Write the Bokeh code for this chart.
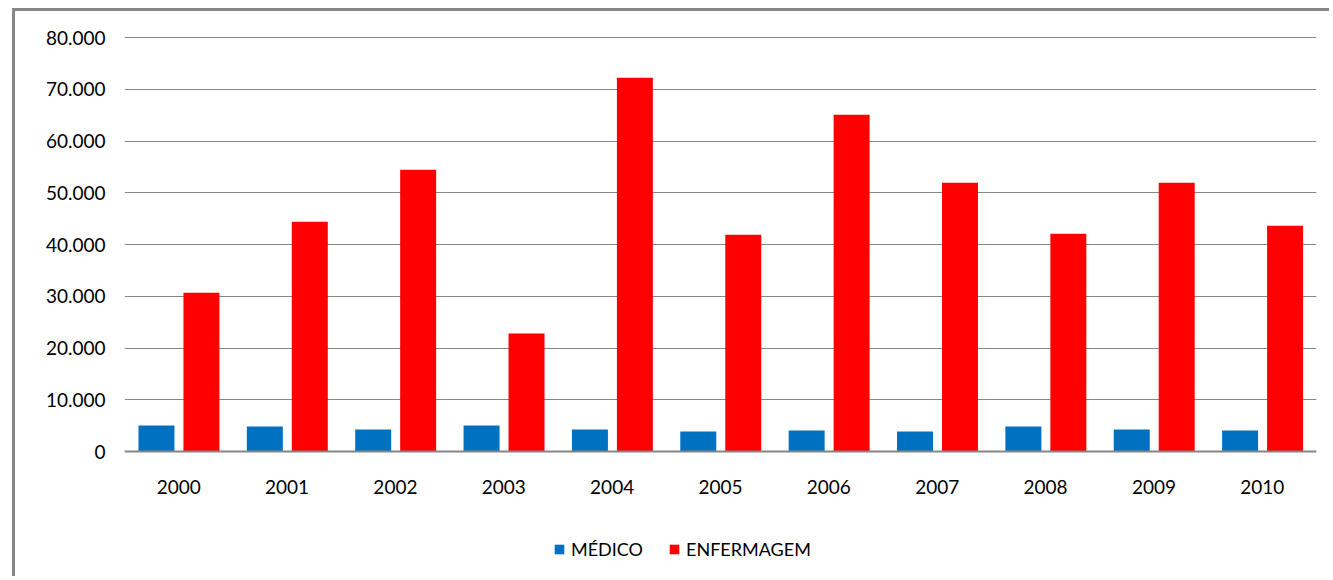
from bokeh.plotting import figure
from bokeh.models import ColumnDataSource, FactorRange, Legend, LegendItem, FixedTicker, Range1d
from bokeh.transform import dodge
from bokeh.embed import file_html
from bokeh.resources import INLINE

years = ["2000", "2001", "2002", "2003", "2004", "2005", "2006", "2007", "2008", "2009", "2010"]
medico = [5020, 4830, 4250, 5020, 4250, 3860, 4050, 3860, 4830, 4250, 4050]
enfermagem = [30700, 44400, 54450, 22780, 72200, 41900, 65060, 51930, 42080, 51930, 43630]
y_ticks = [0, 10000, 20000, 30000, 40000, 50000, 60000, 70000, 80000]
y_tick_labels = ["0", "10.000", "20.000", "30.000", "40.000", "50.000", "60.000", "70.000", "80.000"]

FONT = "Lato"
GRAY = "#868686"

# layout (page px; canvas starts at x=15, y=11)
W, H = 1317, 568
TOP_MARGIN = 19           # frame top at page y=30
BOTTOM_MARGIN = 8         # frame bottom near page bottom
RIGHT_MARGIN = W - (1316 - 15)
Y0_PX = 451 - 11          # y of value 0 inside canvas
Y80_PX = 37 - 11          # y of value 80000 inside canvas
units_per_px = 80000 / (Y0_PX - Y80_PX)
frame_top = TOP_MARGIN
frame_bottom = H - BOTTOM_MARGIN
y_end = 80000 + (Y80_PX - frame_top) * units_per_px
y_start = -(frame_bottom - Y0_PX) * units_per_px

src = ColumnDataSource(dict(year=years, medico=medico, enfermagem=enfermagem))

p = figure(
    x_range=FactorRange(*years, range_padding=0),
    y_range=Range1d(y_start, y_end),
    width=W, height=H,
    title=None,
    output_backend="svg", toolbar_location=None,
    min_border_left=109, min_border_right=RIGHT_MARGIN,
    min_border_top=TOP_MARGIN, min_border_bottom=BOTTOM_MARGIN,
    styles={"margin-left": "12px", "margin-top": "8px",
            "border-left": "3px solid #868686", "border-top": "3px solid #868686"},
)
p.outline_line_color = None
p.background_fill_color = "white"
p.border_fill_color = "white"

r1 = p.vbar(x=dodge("year", -0.205, range=p.x_range), top="medico", width=0.332,
            source=src, fill_color="#0070C0", line_color=None)
r2 = p.vbar(x=dodge("year", 0.21, range=p.x_range), top="enfermagem", width=0.332,
            source=src, fill_color="#FF0000", line_color=None)

p.xgrid.grid_line_color = None
p.ygrid.grid_line_color = GRAY
p.ygrid.grid_line_width = 1
p.yaxis.ticker = FixedTicker(ticks=y_ticks)
p.yaxis.major_label_overrides = {t: l for t, l in zip(y_ticks, y_tick_labels)}
p.yaxis.axis_line_color = None
p.yaxis.major_tick_line_color = None
p.yaxis.minor_tick_line_color = None
p.yaxis.major_tick_out = 0
p.yaxis.major_tick_in = 0
p.yaxis.major_label_standoff = 19
p.yaxis.major_label_text_font = FONT
p.yaxis.major_label_text_font_size = "19px"
p.yaxis.major_label_text_color = "black"

p.xaxis.fixed_location = 0
p.xaxis.axis_line_color = GRAY
p.xaxis.axis_line_width = 2
p.xaxis.major_tick_line_color = None
p.xaxis.major_tick_out = 0
p.xaxis.major_tick_in = 0
p.xaxis.major_label_standoff = 28
p.xaxis.major_label_text_font = FONT
p.xaxis.major_label_text_font_size = "19px"
p.xaxis.major_label_text_color = "black"

legend = Legend(
    items=[LegendItem(label="MÉDICO", renderers=[r1]),
           LegendItem(label="ENFERMAGEM", renderers=[r2])],
    location=(429, frame_bottom - (560 - 11)), orientation="horizontal",
    glyph_width=12, glyph_height=12, label_standoff=6, spacing=25,
    padding=0, margin=0, border_line_color=None, background_fill_alpha=0,
    label_text_font=FONT, label_text_font_size="18px", label_text_color="black",
)
p.add_layout(legend, "center")

open("out.html", "w").write(file_html(p, INLINE))
